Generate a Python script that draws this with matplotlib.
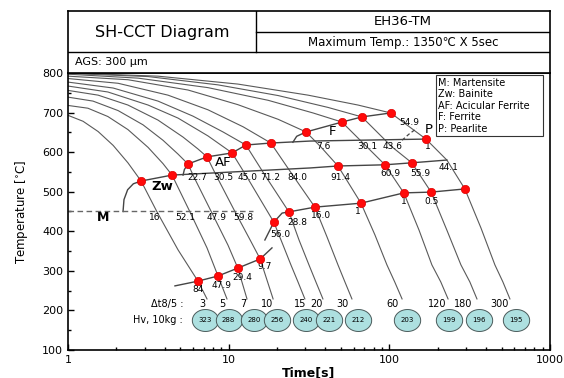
import numpy as np
import matplotlib.pyplot as plt
from matplotlib.path import Path
from matplotlib.ticker import FixedLocator, FixedFormatter

plt.rcParams['font.family'] = ['DejaVu Sans']

# cooling curves, time [s] / temperature [C]
dt85 = ['3', '5', '7', '10', '15', '20', '30', '60', '120', '180', '300']
curve_t = [
    [1, 1.24, 1.54, 1.91, 2.36, 2.85, 3.58, 4.84, 6.44, 7.33],
    [1, 1.33, 1.77, 2.36, 3.15, 3.90, 4.44, 5.74, 7.33, 8.58, 9.76],
    [1, 1.43, 2.05, 2.93, 3.90, 4.84, 5.58, 6.08, 7.76, 9.90, 11.4, 13.0],
    [1, 1.54, 2.36, 3.63, 5.20, 6.44, 7.33, 8.46, 10.9, 13.6, 15.7, 18.9],
    [1, 1.77, 3.15, 4.84, 7.43, 10.5, 13.0, 19.1, 21.8, 24.4, 27.0, 29.8],
    [1, 1.91, 3.63, 5.99, 9.22, 12.8, 17.1, 23.7, 27.4, 31.6, 34.9, 38.6],
    [1, 2.05, 4.19, 7.43, 12.3, 18.3, 25.5, 34.4, 40.9, 47.9, 52.9, 58.5],
    [1, 2.36, 5.58, 11.4, 20.3, 30.3, 37.5, 47.9, 66.6, 81.3, 96.6, 108, 120],
    [1, 2.73, 7.43, 17.6, 33.5, 50.7, 72.6, 93.9, 123, 153, 184, 209, 232],
    [1, 3.15, 8.58, 20.3, 41.5, 67.5, 104, 138, 182, 228, 279, 317, 351],
    [1, 3.63, 11.4, 31.2, 63.8, 102, 169, 228, 295, 372, 454, 509, 563],
]
curve_T = [
    [693, 678, 652, 617, 573, 527, 449, 353, 274, 229],
    [718, 711, 690, 657, 612, 571, 542, 449, 358, 287, 229],
    [739, 729, 705, 669, 630, 595, 570, 537, 451, 365, 307, 229],
    [756, 744, 719, 681, 638, 608, 588, 537, 451, 378, 330, 229],
    [767, 752, 719, 686, 641, 598, 537, 423, 365, 315, 272, 229],
    [777, 762, 729, 691, 651, 618, 537, 449, 378, 315, 272, 229],
    [786, 774, 744, 707, 664, 623, 537, 461, 386, 315, 272, 229],
    [792, 783, 757, 720, 683, 651, 613, 565, 471, 391, 315, 272, 229],
    [797, 787, 763, 731, 699, 676, 613, 568, 497, 403, 315, 272, 229],
    [799, 791, 770, 743, 713, 689, 613, 573, 499, 403, 315, 272, 229],
    [800, 792, 772, 744, 719, 699, 633, 580, 507, 408, 315, 272, 229],
]

# hardness
hv = ['323', '288', '280', '256', '240', '221', '212', '203', '199', '196', '195']
hv_t = [7.12, 10.0, 14.4, 20.0, 30.3, 42.1, 63.8, 129, 235, 361, 614]
dt_lab_t = [6.82, 9.09, 12.3, 17.3, 27.8, 35.4, 51.4, 104, 198, 287, 488]

# transformation lines
f_start_t = [25.1, 26.5, 30.3]
f_start_T = [625, 640, 651]
f_t = [30.3, 50.7, 67.5, 102]
f_T = [651, 676, 689, 699]
af_start_t = [5.2, 5.3, 5.58]
af_start_T = [542, 556, 570]
af_t = [5.58, 7.33, 10.5, 12.8, 18.3, 32.1, 169]
af_T = [570, 588, 598, 618, 623, 628, 633]
p_t = [120, 132, 148]
p_T = [630, 645, 660]
zw_start_t = [2.20, 2.23, 2.35, 2.55, 2.85]
zw_start_T = [450, 480, 505, 520, 527]
zw_t = [2.85, 4.44, 32.1, 47.9, 93.9, 138, 228]
zw_T = [527, 542, 560, 565, 568, 573, 580]
bs_t = [16.8, 19.1, 21.5, 23.7, 34.4, 66.6, 123, 182, 295]
bs_T = [378, 423, 446, 449, 461, 471, 497, 499, 507]
ms_t = [4.63, 6.44, 8.58, 11.4, 15.7, 18.6]
ms_T = [262, 274, 287, 307, 330, 358]
m_t = [1, 14.2]
m_T = [450, 450]

# red points
dot_t = [30.3, 50.7, 67.5, 102, 169,
         5.58, 7.33, 10.5, 12.8, 18.3,
         2.85, 4.44, 47.9, 93.9, 138,
         19.1, 23.7, 34.4, 66.6, 123, 182, 295,
         6.44, 8.58, 11.4, 15.7]
dot_T = [651, 676, 689, 699, 633,
         570, 588, 598, 618, 623,
         527, 542, 565, 568, 573,
         423, 449, 461, 471, 497, 499, 507,
         274, 287, 307, 330]

# phase fractions (%)
m_pct = ['16', '52.1', '47.9', '59.8']
m_pct_t = [3.48, 5.35, 8.46, 12.3]
zw_pct = ['22.7', '30.5', '45.0', '71.2', '84.0', '91.4', '60.9', '55.9', '44.1']
zw_pct_t = [6.35, 9.22, 13.2, 18.1, 26.6, 49.3, 101, 155, 232]
zw_pct_T = [537, 537, 537, 537, 537, 537, 547, 547, 560]
f_pct = ['7.6', '30.1', '43.6', '1']
f_pct_t = [38.6, 72.6, 104, 174]
b_pct = ['56.0', '28.8', '16.0', '1', '1', '0.5']
b_pct_t = [20.9, 26.6, 37.5, 63.8, 123, 182]
b_pct_T = [393, 423, 439, 449, 474, 474]
ms_pct = ['84', '47.9', '29.4', '9.7']
ms_pct_t = [6.44, 9.08, 12.1, 16.8]
ms_pct_T = [254, 264, 282, 310]

legend_lines = ['M: Martensite', 'Zw: Bainite', 'AF: Acicular Ferrite',
                'F: Ferrite', 'P: Pearlite']

fig = plt.figure(figsize=(5.64, 3.78), dpi=100)
ax = fig.add_axes([0.1206, 0.0741, 0.8546, 0.7328])

for t, T in zip(curve_t, curve_T):
    ax.plot(t, T, color='#5a5a5a', lw=0.8)

lc = '#454545'
ax.plot(f_start_t, f_start_T, color=lc, lw=1)
ax.plot(f_t, f_T, color=lc, lw=1)
ax.plot(af_start_t, af_start_T, color=lc, lw=1)
ax.plot(af_t, af_T, color=lc, lw=1)
ax.plot(p_t, p_T, color=lc, lw=0.9, ls=(0, (3, 2)))
ax.plot(zw_start_t, zw_start_T, color=lc, lw=1)
ax.plot(zw_t, zw_T, color=lc, lw=1)
ax.plot(bs_t, bs_T, color=lc, lw=1)
ax.plot(ms_t, ms_T, color=lc, lw=1)
ax.plot(m_t, m_T, color='#666666', lw=1, ls=(0, (4, 2.5)))

ax.plot(dot_t, dot_T, 'o', color='#ff0a0a', ms=6, mec='#e00000', mew=0.5, zorder=5)

fs = 6.5
for s, t in zip(m_pct, m_pct_t):
    ax.text(t, 436, s, fontsize=fs, ha='center', va='center')
for s, t, T in zip(zw_pct, zw_pct_t, zw_pct_T):
    ax.text(t, T, s, fontsize=fs, ha='center', va='center')
for s, t in zip(f_pct, f_pct_t):
    ax.text(t, 613, s, fontsize=fs, ha='center', va='center')
ax.text(134, 674, '54.9', fontsize=fs, ha='center', va='center')
for s, t, T in zip(b_pct, b_pct_t, b_pct_T):
    ax.text(t, T, s, fontsize=fs, ha='center', va='center')
for s, t, T in zip(ms_pct, ms_pct_t, ms_pct_T):
    ax.text(t, T, s, fontsize=fs, ha='center', va='center')

ax.text(1.65, 434, 'M', fontsize=9, fontweight='bold', ha='center', va='center')
ax.text(3.85, 512, 'Zw', fontsize=9.5, fontweight='bold', ha='center', va='center')
ax.text(9.2, 575, 'AF', fontsize=9.5, ha='center', va='center')
ax.text(44, 651, 'F', fontsize=9.5, ha='center', va='center')
ax.text(176, 656, 'P', fontsize=9.5, ha='center', va='center')

# cooling time and hardness rows
ax.text(5.2, 216, 'Δt8/5 :', fontsize=7, ha='right', va='center')
ax.text(5.2, 176, 'Hv, 10kg :', fontsize=7, ha='right', va='center')
for s, t in zip(dt85, dt_lab_t):
    ax.text(t, 216, s, fontsize=7, ha='center', va='center')
theta = np.linspace(0, 2 * np.pi, 60)
ell = Path(np.column_stack([1.2 * np.cos(theta), np.sin(theta)]))
ax.scatter(hv_t, [176] * len(hv_t), marker=ell, s=360, facecolor='#ade0e0',
           edgecolor='#4a5a5a', linewidth=0.7, zorder=4)
for s, t in zip(hv, hv_t):
    ax.text(t, 176, s, fontsize=5, ha='center', va='center', zorder=6)

# legend box
ax.add_patch(plt.Rectangle((0.763, 0.773), 0.222, 0.22, transform=ax.transAxes,
                           fill=False, ec='#333333', lw=0.8))
for i, s in enumerate(legend_lines):
    ax.text(0.768, 0.964 - i * 0.0415, s, transform=ax.transAxes,
            fontsize=7, va='center', ha='left')

ax.set_xscale('log')
ax.set_xlim(1, 1000)
ax.set_ylim(100, 800)
ax.xaxis.set_major_locator(FixedLocator([1, 10, 100, 1000]))
ax.xaxis.set_major_formatter(FixedFormatter(['1', '10', '100', '1000']))
ax.set_yticks(range(100, 801, 100))
ax.set_yticks(range(150, 800, 100), minor=True)
ax.tick_params(which='both', direction='in', labelsize=8, width=1)
ax.tick_params(which='major', length=4)
ax.tick_params(which='minor', length=2.5)
for sp in ax.spines.values():
    sp.set_linewidth(1.2)
ax.set_xlabel('Time[s]', fontsize=9, fontweight='bold', labelpad=1)
ax.set_ylabel('Temperature [$^{\\circ}$C]', fontsize=8.5, labelpad=9)

# title table
hx = fig.add_axes([0.1206, 0.8069, 0.8546, 0.164])
hx.set_xlim(0, 1)
hx.set_ylim(0, 1)
hx.set_xticks([])
hx.set_yticks([])
for sp in hx.spines.values():
    sp.set_linewidth(1.2)
hx.plot([0, 1], [0.339, 0.339], color='k', lw=1)
hx.plot([0.39, 0.39], [0.339, 1], color='k', lw=1)
hx.plot([0.39, 1], [0.661, 0.661], color='k', lw=1)
hx.text(0.195, 0.655, 'SH-CCT Diagram', fontsize=11.5, ha='center', va='center')
hx.text(0.695, 0.825, 'EH36-TM', fontsize=9.5, ha='center', va='center')
hx.text(0.695, 0.49, 'Maximum Temp.: 1350℃ X 5sec', fontsize=8.5, ha='center', va='center')
hx.text(0.015, 0.17, 'AGS: 300 μm', fontsize=8, ha='left', va='center')

fig.savefig('out.png', dpi=100)
